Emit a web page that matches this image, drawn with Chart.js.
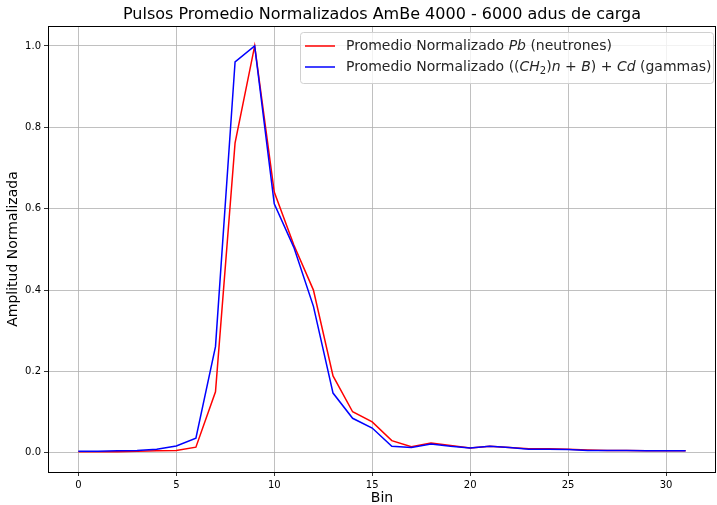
<!DOCTYPE html>
<html>
<head>
<meta charset="utf-8">
<script src="https://cdn.jsdelivr.net/npm/chart.js@4.4.0/dist/chart.umd.min.js"></script>
<style>
  html, body { margin: 0; padding: 0; background: #fff; }
  #wrap { width: 717px; height: 505px; }
</style>
</head>
<body>
<div id="wrap"><canvas id="myChart" width="717" height="505"></canvas></div>
<script>
// datos
const bins = [0,1,2,3,4,5,6,7,8,9,10,11,12,13,14,15,16,17,18,19,20,21,22,23,24,25,26,27,28,29,30,31];

const promedioPb = [0.003,0.003,0.003,0.004,0.005,0.006,0.014,0.150,0.762,1.000,0.641,0.511,0.400,0.189,0.101,0.076,
                    0.030,0.015,0.024,0.018,0.012,0.016,0.013,0.010,0.010,0.009,0.007,0.006,0.006,0.005,0.005,0.005];

const promedioCd = [0.004,0.004,0.005,0.006,0.009,0.017,0.036,0.261,0.961,1.000,0.612,0.505,0.360,0.147,0.085,0.061,
                    0.016,0.013,0.022,0.016,0.012,0.016,0.013,0.009,0.009,0.008,0.006,0.006,0.006,0.005,0.005,0.005];

const xTicks = [0,5,10,15,20,25,30];
const yTicks = [0.0,0.2,0.4,0.6,0.8,1.0];

const titulo = 'Pulsos Promedio Normalizados AmBe 4000 - 6000 adus de carga';
const fuente = "'DejaVu Sans', sans-serif";

function puntos(valores)
{
    let out = [];
    for (let i = 0; i < bins.length; i++)
    {
        out.push({ x: bins[i], y: valores[i] });
    }
    return out;
}

// titulo centrado sobre el area, marco y leyenda con texto en cursiva (estilo mathtext)
const leyenda = {
    id: 'leyenda',
    afterDraw(chart) {
        const ctx = chart.ctx;
        const area = chart.chartArea;

        ctx.save();
        ctx.fillStyle = '#000';
        ctx.font = '16px ' + fuente;
        ctx.textAlign = 'center';
        ctx.textBaseline = 'middle';
        ctx.fillText(titulo, (area.left + area.right) / 2, 15);
        ctx.restore();

        // marco completo del area
        ctx.save();
        ctx.strokeStyle = '#000';
        ctx.lineWidth = 1;
        const l = Math.round(area.left), t = Math.round(area.top);
        const r = Math.round(area.right), b = Math.round(area.bottom);
        ctx.strokeRect(l + 0.5, t + 0.5, r - l - 1, b - t);
        ctx.restore();

        const filas = [
            { color: '#ff0000', partes: [['Promedio Normalizado ', 'n'], ['Pb', 'i'], [' (neutrones)', 'n']] },
            { color: '#0000ff', partes: [['Promedio Normalizado ((', 'n'], ['CH', 'i'], ['2', 's'], [')', 'n'], ['n', 'i'],
                                         [' + ', 'n'], ['B', 'i'], [') + ', 'n'], ['Cd', 'i'], [' (gammas)', 'n']] }
        ];

        const x0 = 300, y0 = 32, w = 413, h = 51;
        ctx.save();
        ctx.fillStyle = 'rgba(255,255,255,0.8)';
        ctx.strokeStyle = '#d0d0d0';
        ctx.lineWidth = 1;
        ctx.beginPath();
        ctx.roundRect(x0 + 0.5, y0 + 0.5, w, h, 3);
        ctx.fill();
        ctx.stroke();

        ctx.textBaseline = 'middle';
        filas.forEach((fila, i) => {
            const yy = 46 + i * 21;
            ctx.strokeStyle = fila.color;
            ctx.lineWidth = 1.5;
            ctx.beginPath();
            ctx.moveTo(305, yy);
            ctx.lineTo(335, yy);
            ctx.stroke();

            let xx = 346;
            ctx.fillStyle = '#262626';
            for (const p of fila.partes)
            {
                let dy = 0;
                if (p[1] === 'i') ctx.font = 'italic 14px ' + fuente;
                else if (p[1] === 's') { ctx.font = '10px ' + fuente; dy = 4; }
                else ctx.font = '14px ' + fuente;
                ctx.fillText(p[0], xx, yy + dy);
                xx += ctx.measureText(p[0]).width;
            }
        });
        ctx.restore();
    }
};

const data = {
    datasets: [
        {
            label: 'Promedio Normalizado Pb (neutrones)',
            data: puntos(promedioPb),
            borderColor: '#ff0000',
            backgroundColor: '#ff0000',
            borderWidth: 1.5,
            pointRadius: 0,
            tension: 0,
            order: 1
        },
        {
            label: 'Promedio Normalizado ((CH2)n + B) + Cd (gammas)',
            data: puntos(promedioCd),
            borderColor: '#0000ff',
            backgroundColor: '#0000ff',
            borderWidth: 1.5,
            pointRadius: 0,
            tension: 0,
            order: 0
        }
    ]
};

const config = {
    type: 'line',
    data: data,
    plugins: [leyenda],
    options: {
        responsive: false,
        animation: false,
        layout: { padding: { left: 0, right: 1, top: 26, bottom: 0 } },
        plugins: {
            legend: { display: false },
            tooltip: { enabled: false },
            title: { display: false }
        },
        scales: {
            x: {
                type: 'linear',
                min: -1.55,
                max: 32.55,
                afterBuildTicks: (axis) => { axis.ticks = xTicks.map(v => ({ value: v })); },
                afterFit: (axis) => { axis.height = 33; },
                ticks: {
                    color: '#000',
                    font: { family: fuente, size: 10 },
                    padding: 3,
                    maxRotation: 0
                },
                grid: { color: '#b0b0b0', tickColor: '#000', tickLength: 4, lineWidth: 0.8 },
                border: { display: false },
                title: {
                    display: true,
                    text: 'Bin',
                    color: '#000',
                    font: { family: fuente, size: 14, lineHeight: 1.0 },
                    padding: { top: 0, bottom: 0 }
                }
            },
            y: {
                type: 'linear',
                min: -0.047,
                max: 1.049,
                afterBuildTicks: (axis) => { axis.ticks = yTicks.map(v => ({ value: v })); },
                afterFit: (axis) => { axis.width = 48; },
                ticks: {
                    color: '#000',
                    font: { family: fuente, size: 10 },
                    padding: 3,
                    callback: (v) => Number(v).toFixed(1)
                },
                grid: { color: '#b0b0b0', tickColor: '#000', tickLength: 4, lineWidth: 0.8 },
                border: { display: false },
                title: {
                    display: true,
                    text: 'Amplitud Normalizada',
                    color: '#000',
                    font: { family: fuente, size: 14 },
                    padding: { top: 5, bottom: 4 }
                }
            }
        }
    }
};

const myChart = new Chart(document.getElementById('myChart'), config);
</script>
</body>
</html>
